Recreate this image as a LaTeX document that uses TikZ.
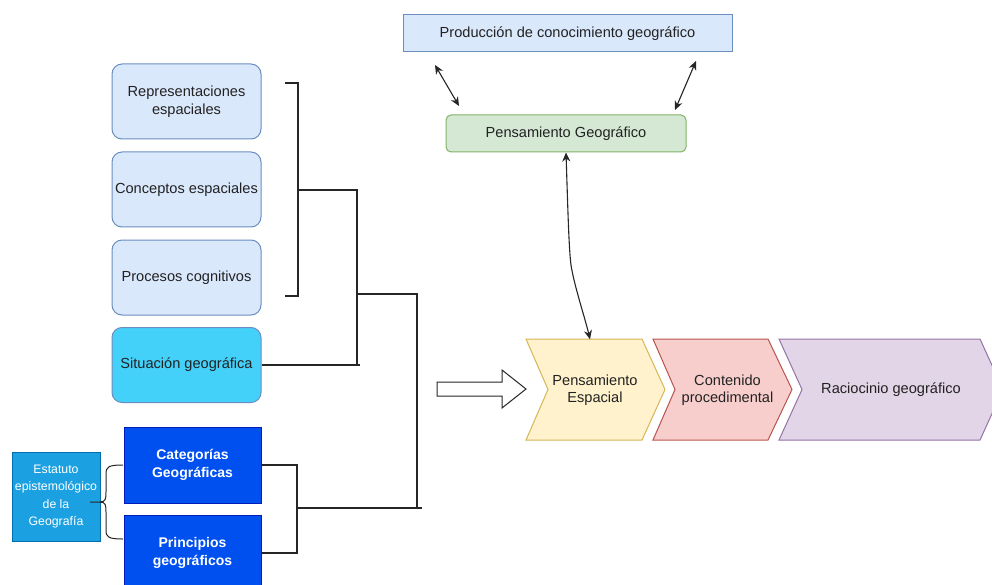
\documentclass[tikz,border=0pt]{standalone}
\usepackage{fontspec}
\setmainfont{Liberation Sans}
\usetikzlibrary{arrows.meta,calc}
\definecolor{lbluef}{HTML}{DAE8FC}
\definecolor{lblued}{HTML}{6C8EBF}
\definecolor{cyanf}{HTML}{44D1F9}
\definecolor{dbluef}{HTML}{0050EF}
\definecolor{dblued}{HTML}{001DBC}
\definecolor{mbluef}{HTML}{1BA1E2}
\definecolor{mblued}{HTML}{006EAF}
\definecolor{greenf}{HTML}{D5E8D4}
\definecolor{greend}{HTML}{82B366}
\definecolor{yellowf}{HTML}{FFF2CC}
\definecolor{yellowd}{HTML}{D6B656}
\definecolor{redf}{HTML}{F8CECC}
\definecolor{redd}{HTML}{B85450}
\definecolor{purplef}{HTML}{E1D5E7}
\definecolor{purpled}{HTML}{9673A6}
\definecolor{txt}{HTML}{222222}
\tikzset{
  lbl/.style={font=\fontsize{14.6}{17.5}\selectfont, text=txt, align=center, inner sep=0pt},
  lbox/.style={lbl, draw=lblued, fill=lbluef, rounded corners=10pt, minimum width=149pt, minimum height=75pt, line width=1pt},
  sbox/.style={lbox, fill=cyanf},
  dbox/.style={lbl, text=white, font=\fontsize{14}{17.5}\selectfont\bfseries, draw=dblued, fill=dbluef, minimum width=137pt, minimum height=76pt, line width=1pt},
  ebox/.style={lbl, text=white, font=\fontsize{12.3}{17.5}\selectfont, draw=mblued, fill=mbluef, minimum width=88pt, minimum height=89pt, line width=0.8pt},
  tbox/.style={lbl, draw=lblued, fill=lbluef, minimum width=329pt, minimum height=37pt, line width=1pt},
  gbox/.style={lbl, draw=greend, fill=greenf, rounded corners=5pt, minimum width=240pt, minimum height=37pt, line width=1pt},
  conn/.style={draw=black!85, line width=1.1pt},
  thickconn/.style={draw=black!85, line width=2pt},
  dbl/.style={draw=black!85, line width=1.1pt, {Stealth[length=9pt,width=8pt]}-{Stealth[length=9pt,width=8pt]}},
  chev/.style={line width=1pt, line join=miter},
}
\begin{document}
\begin{tikzpicture}[x=1pt,y=-1pt]
\useasboundingbox[fill=white] (0,0) rectangle (992,585);

% left column
\node[lbox] (rep) at (186.5,101.5) {Representaciones\\espaciales};
\node[lbox] (con) at (186.5,189.5) {Conceptos espaciales};
\node[lbox] (pro) at (186.5,277.5) {Procesos cognitivos};
\node[sbox] (sit) at (186.5,365) {Situación geográfica};

% bottom left
\node[dbox] (cat) at (192.5,465) {Categorías\\Geográficas};
\node[dbox] (pri) at (192.5,553) {Principios\\geográficos};
\node[ebox] (est) at (56,496.5) {Estatuto\\epistemológico\\de la\\Geografía};

% top
\node[tbox] (prod) at (567.5,33.5) {Producción de conocimiento geográfico};
\node[gbox] (pg) at (566,133.5) {Pensamiento Geográfico};

% chevrons
\draw[chev, draw=yellowd, fill=yellowf] (526,339) -- (642,339) -- (665,389.5) -- (642,440) -- (526,440) -- (548,389.5) -- cycle;
\draw[chev, draw=redd, fill=redf] (653,339) -- (768,339) -- (792,389.5) -- (768,440) -- (653,440) -- (675,389.5) -- cycle;
\draw[chev, draw=purpled, fill=purplef] (779,339) -- (980,339) -- (1003,389.5) -- (980,440) -- (779,440) -- (802,389.5) -- cycle;
\node[lbl, minimum width=139pt, minimum height=101pt] (pe) at (595,390) {Pensamiento\\Espacial};
\node[lbl] (cp) at (727.5,390) {Contenido\\procedimental};
\node[lbl] (rg) at (891,389.5) {Raciocinio geográfico};

% hollow arrow
\draw[line width=1pt, draw=black!85, fill=white, line join=miter] (437,382) -- (502,382) -- (502,370) -- (526,389) -- (502,408) -- (502,396) -- (437,396) -- cycle;

% bracket and tree connectors
\coordinate (b1) at (285,83);
\coordinate (b2) at (285,296);
\coordinate (bm) at (298,190);
\coordinate (j1) at (357,190);
\coordinate (j2) at (357,294);
\coordinate (j3) at (417,294);
\coordinate (j4) at (417,508);
\coordinate (j5) at (297,508);
\draw[conn] (b1) -- (298,83) -- (298,296) -- (b2);
\draw[conn] (bm) -- (j1) -- (357,366);
\draw[thickconn] (sit.east) -- (360,365);
\draw[conn] (j2) -- (j3) -- (j4);
\draw[conn] (cat.east) -- (297,465) -- (297,553) -- (pri.east);
\draw[thickconn] (j5) -- (422,508);

% brace
\coordinate (brtip) at (90,502);
\draw[conn, line width=1pt] (brtip) -- (100,502) .. controls (106,502) and (106,498) .. (106,492) -- (106,474) .. controls (106,467) and (108,465) .. (123,465);
\draw[conn, line width=1pt] (100,502) .. controls (106,502) and (106,506) .. (106,512) -- (106,530) .. controls (106,537) and (108,539) .. (123,539);

% double arrows
\coordinate (a1) at (435,65);
\coordinate (a2) at (459,106);
\coordinate (a3) at (696,61);
\coordinate (a4) at (675,110);
\draw[dbl] (a1) -- (a2);
\draw[dbl] (a3) -- (a4);
\coordinate (bend) at (571,265);
\draw[dbl] (pg.south) .. controls (568,215) and (569,250) .. (bend) .. controls (574,285) and (585,318) .. ([xshift=-5pt]pe.north);
\end{tikzpicture}
\end{document}
